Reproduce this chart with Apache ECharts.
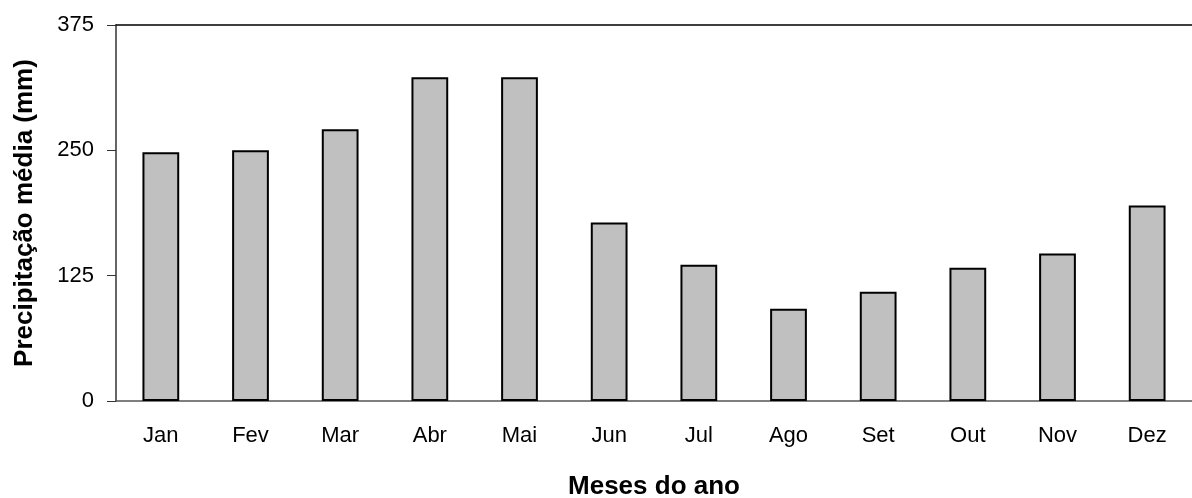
<!DOCTYPE html>
<html>
<head>
<meta charset="utf-8">
<script src="https://cdn.jsdelivr.net/npm/echarts@6/dist/echarts.min.js"></script>
<style>
  html, body { margin: 0; padding: 0; background: #fff; }
  #chart { width: 1192px; height: 498px; }
</style>
</head>
<body>
<div id="chart"></div>
<script>
// meses e precipitação média (mm)
var meses = ['Jan', 'Fev', 'Mar', 'Abr', 'Mai', 'Jun', 'Jul', 'Ago', 'Set', 'Out', 'Nov', 'Dez'];
var precipitacao = [248, 250, 271, 323, 323, 178, 136, 92, 109, 133, 147, 195];
var yTicks = [0, 125, 250, 375];

var font = 'Liberation Sans, Arial, sans-serif';
var myChart = echarts.init(document.getElementById('chart'));

var option = {
    animation: false,
    grid: { left: 116, right: 0, top: 25, bottom: 97, containLabel: false, outerBoundsMode: 'none' },
    xAxis: [{
        type: 'category',
        data: meses,
        name: 'Meses do ano',
        nameLocation: 'middle',
        nameGap: 73,
        nameTextStyle: { fontFamily: font, fontSize: 26, fontWeight: 'bold', color: '#000' },
        axisLine: { lineStyle: { color: '#555', width: 1.5 } },
        axisTick: { length: 7, lineStyle: { color: '#666', width: 1 } },
        axisLabel: { margin: 24, fontFamily: font, fontSize: 22, color: '#000' }
    }, {
        // linha superior da área do gráfico
        type: 'category',
        data: meses,
        position: 'top',
        axisLine: { lineStyle: { color: '#000', width: 1.5 } },
        axisTick: { show: false },
        axisLabel: { show: false }
    }],
    yAxis: {
        type: 'value',
        min: yTicks[0],
        max: yTicks[yTicks.length - 1],
        interval: 125,
        name: 'Precipitação média (mm)',
        nameLocation: 'middle',
        nameGap: 78,
        nameTextStyle: { fontFamily: font, fontSize: 26, fontWeight: 'bold', color: '#000' },
        axisLine: { show: true, lineStyle: { color: '#333', width: 1.5 } },
        axisTick: { show: true, length: 9, lineStyle: { color: '#333', width: 1 } },
        axisLabel: { margin: 22, fontFamily: font, fontSize: 22, color: '#000' },
        splitLine: { show: false }
    },
    series: [{
        type: 'bar',
        data: precipitacao,
        barWidth: '41%',
        itemStyle: { color: '#c0c0c0', borderColor: '#000', borderWidth: 2 }
    }]
};

myChart.setOption(option);
</script>
</body>
</html>
